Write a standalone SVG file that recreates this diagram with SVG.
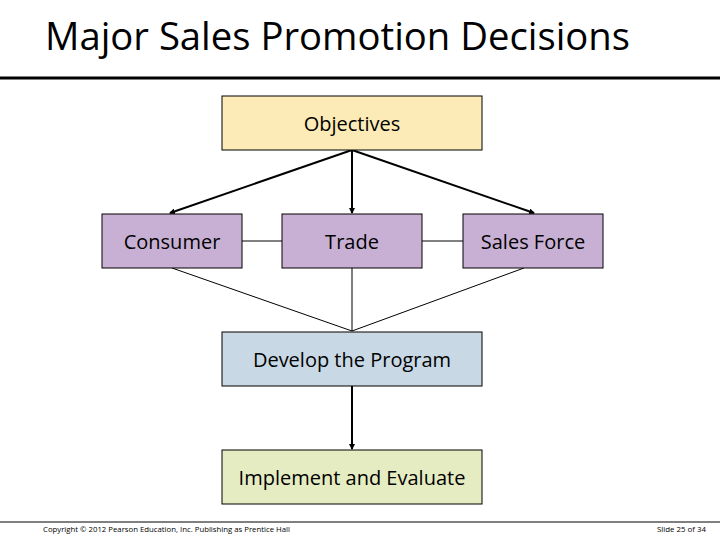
<svg xmlns="http://www.w3.org/2000/svg" width="720" height="540" viewBox="0 0 720 540">
<defs>
<style>
.box{stroke:#000;stroke-width:1}
.lbl{font-family:"Open Sans","Liberation Sans",sans-serif;font-size:20px;fill:#000;text-anchor:middle;dominant-baseline:central}
.thick{stroke:#000;stroke-width:2;fill:none}
.thin{stroke:#000;stroke-width:1;fill:none}
.foot{font-family:"Open Sans","Liberation Sans",sans-serif;font-size:7px;fill:#000}
</style>
<marker id="arr" viewBox="0 0 6 6" refX="5" refY="3" markerWidth="3" markerHeight="3" orient="auto">
<path d="M0,0 L6,3 L0,6 z" fill="#000"/>
</marker>
</defs>
<rect width="720" height="540" fill="#fff"/>
<text x="45" y="50" font-family="'Open Sans','Liberation Sans',sans-serif" font-size="38" fill="#000" textLength="585" lengthAdjust="spacingAndGlyphs">Major Sales Promotion Decisions</text>
<line x1="0" y1="78" x2="720" y2="78" stroke="#000" stroke-width="3"/>
<g id="connectors">
<line class="thick" x1="352" y1="150" x2="170" y2="213" marker-end="url(#arr)"/>
<line class="thick" x1="352" y1="150" x2="352" y2="213" marker-end="url(#arr)"/>
<line class="thick" x1="352" y1="150" x2="534" y2="213" marker-end="url(#arr)"/>
<line class="thin" x1="242" y1="241" x2="282" y2="241"/>
<line class="thin" x1="422" y1="241" x2="463" y2="241"/>
<line class="thin" x1="172" y1="268" x2="352" y2="331"/>
<line class="thin" x1="352" y1="268" x2="352" y2="331"/>
<line class="thin" x1="524" y1="268" x2="352" y2="331"/>
<line class="thick" x1="352" y1="386" x2="352" y2="449" marker-end="url(#arr)"/>
</g>
<g id="objectives"><rect class="box" x="222" y="96" width="260" height="54" fill="#FCEBB6"/><text class="lbl" x="352" y="123">Objectives</text></g>
<g id="consumer"><rect class="box" x="102" y="214" width="140" height="54" fill="#C8B0D4"/><text class="lbl" x="172" y="241">Consumer</text></g>
<g id="trade"><rect class="box" x="282" y="214" width="140" height="54" fill="#C8B0D4"/><text class="lbl" x="352" y="241">Trade</text></g>
<g id="salesforce"><rect class="box" x="463" y="214" width="140" height="54" fill="#C8B0D4"/><text class="lbl" x="533" y="241">Sales Force</text></g>
<g id="develop"><rect class="box" x="222" y="332" width="260" height="54" fill="#C8D8E4"/><text class="lbl" x="352" y="359">Develop the Program</text></g>
<g id="implement"><rect class="box" x="222" y="450" width="260" height="54" fill="#E6ECC2"/><text class="lbl" x="352" y="477">Implement and Evaluate</text></g>
<line x1="0" y1="522" x2="720" y2="522" stroke="#000" stroke-width="1"/>
<text class="foot" x="43" y="532" textLength="247" lengthAdjust="spacingAndGlyphs">Copyright © 2012 Pearson Education, Inc. Publishing as Prentice Hall</text>
<text class="foot" x="657" y="532" textLength="49" lengthAdjust="spacingAndGlyphs">Slide 25 of 34</text>
</svg>
